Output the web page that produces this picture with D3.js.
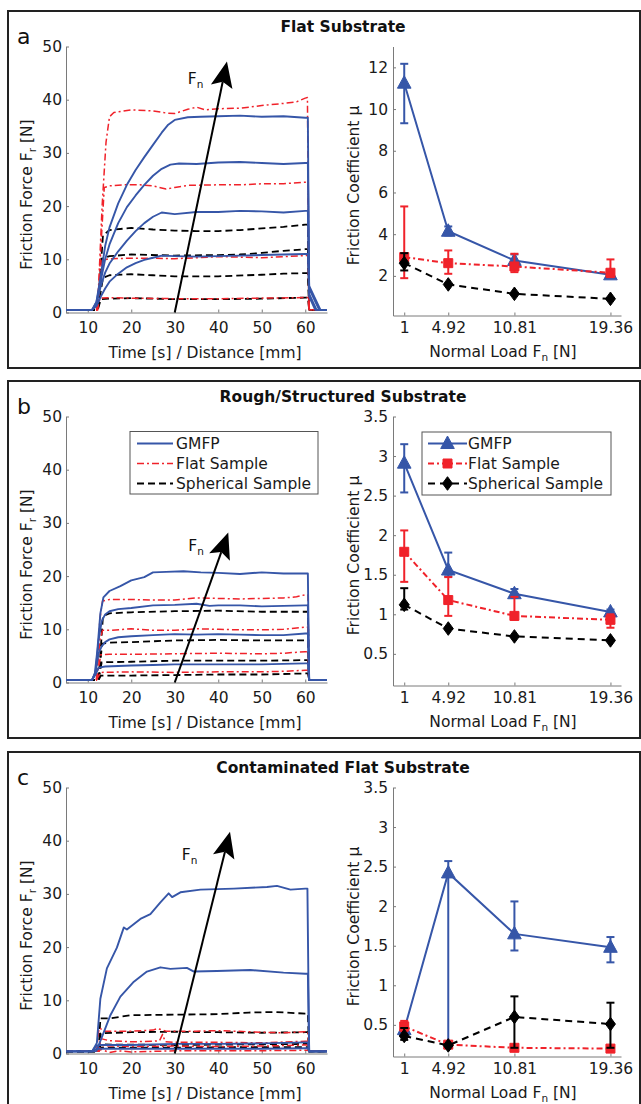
<!DOCTYPE html>
<html>
<head>
<meta charset="utf-8">
<script src="https://cdn.jsdelivr.net/npm/d3@7"></script>
<style>
body { margin: 0; background: #fff; }
svg { display: block; font-family: "DejaVu Sans", sans-serif; }
</style>
</head>
<body>
<script>
// ---------- data ----------
var panelLetters = ["a", "b", "c"];
var panelTitles = ["Flat Substrate", "Rough/Structured Substrate", "Contaminated Flat Substrate"];
var seriesNames = ["GMFP", "Flat Sample", "Spherical Sample"];

var timeTicks = [10, 20, 30, 40, 50, 60];
var forceTicks = [0, 10, 20, 30, 40, 50];
var loads = [1, 4.92, 10.81, 19.36];
var loadLabels = ["1", "4.92", "10.81", "19.36"];
var muTicksA = [2, 4, 6, 8, 10, 12];
var muTicksBC = [0.5, 1, 1.5, 2, 2.5, 3, 3.5];
var muRangeA = [0.1, 13];
var muRangeBC = [0.1, 3.5];

// friction force curves [time, force], one array per sample type and panel
var aBlue = [
    [[5,0.5],[11,0.5],[12,1.2],[13,3],[14,4.5],[15,5.8],[17,7.3],[19,8.5],[21,9.3],[23,9.9],[25,10.3],[27,10.7],[30,10.6],[35,10.5],[40,10.6],[45,10.7],[50,10.8],[55,10.9],[60,11.0],[60.6,11.0],[60.9,3.5],[62.6,0.5],[65,0.5]],
    [[5,0.5],[11,0.5],[12,1.5],[13,5],[14,7.5],[15,9.2],[17,11.5],[19,13.5],[21,15.3],[23,16.8],[25,18],[27,18.8],[30,18.5],[35,18.9],[40,18.9],[45,19.1],[50,19.0],[55,18.8],[60,19.1],[60.6,19.1],[60.9,4.5],[63.2,0.5],[65,0.5]],
    [[5,0.5],[11,0.5],[12,2],[13,6],[14,10],[15,12.8],[17,16.8],[19,19.8],[21,22],[23,24],[25,25.7],[27,27],[29,27.8],[31,28],[35,27.9],[40,28.2],[45,28.3],[50,28.1],[55,27.9],[60,28.1],[60.6,28.1],[60.9,5],[63.5,0.5],[65,0.5]],
    [[5,0.5],[11,0.5],[12,2],[13,7],[14,12.5],[15,16],[17,20.5],[19,24],[21,26.8],[23,29.2],[25,31.5],[27,33.8],[28.5,35.3],[30,36.2],[33,36.7],[36,36.8],[40,36.9],[45,37.0],[50,36.8],[55,36.9],[60,36.6],[60.6,36.6],[60.9,3],[62.3,0.5],[65,0.5]]
];
var aRed = [
    [[5,0.5],[12.2,0.5],[12.8,2.7],[15,2.8],[20,2.7],[30,2.6],[40,2.6],[50,2.7],[60,2.8],[60.6,2.8],[60.9,0.5],[65,0.5]],
    [[5,0.5],[12.2,0.5],[13.3,9.8],[15,10.1],[20,10.2],[25,10.2],[30,10.1],[35,10.3],[40,10.5],[45,10.4],[50,10.3],[55,10.5],[60,10.7],[60.6,10.7],[60.9,0.5],[65,0.5]],
    [[5,0.5],[12.3,0.5],[13,12],[13.8,23.5],[15,23.8],[18,24.0],[22,24.0],[25,23.8],[28,23.2],[30,23.5],[33,23.9],[40,24.0],[45,24.0],[50,24.2],[55,24.2],[60,24.5],[60.6,24.5],[60.9,0.5],[65,0.5]],
    [[5,0.5],[12,0.5],[12.5,5],[13.3,20],[14.2,32],[15,36.8],[16,37.6],[20,38.1],[25,37.9],[28,37.5],[30,37.4],[33,38.2],[35,38.6],[37,38.1],[40,38.3],[45,38.4],[50,38.9],[55,39.3],[58,39.6],[60,40.3],[60.5,40.4],[60.9,0.5],[65,0.5]]
];
var aBlack = [
    [[5,0.5],[12.3,0.5],[13,2.5],[15,2.6],[20,2.7],[30,2.5],[40,2.5],[50,2.6],[60,2.8],[60.6,2.8],[60.9,0.5],[65,0.5]],
    [[5,0.5],[12.3,0.5],[13.5,6.5],[15,7.0],[20,7.2],[25,7.0],[30,6.8],[40,6.8],[50,7.1],[55,7.3],[60,7.4],[60.6,7.4],[60.9,0.5],[65,0.5]],
    [[5,0.5],[12.3,0.5],[13.5,10.2],[15,10.6],[20,10.9],[30,10.7],[40,10.8],[45,10.9],[50,11.2],[55,11.6],[60,11.9],[60.6,11.9],[60.9,0.5],[65,0.5]],
    [[5,0.5],[12.3,0.5],[13.5,14.5],[15,15.5],[20,15.9],[25,15.6],[30,15.4],[35,15.3],[40,15.3],[45,15.5],[50,15.8],[55,16.1],[60,16.5],[60.6,16.5],[60.9,0.5],[65,0.5]]
];

var bBlue = [
    [[5,0.5],[11,0.5],[11.8,1.5],[12.5,2.8],[14,3.0],[20,3.2],[25,3.3],[30,3.4],[40,3.4],[50,3.4],[55,3.5],[60,3.6],[60.6,3.6],[60.9,0.5],[65,0.5]],
    [[5,0.5],[11,0.5],[11.8,2],[12.5,5.5],[13.2,6.8],[14,7.6],[15,8.1],[17,8.5],[20,8.7],[25,8.9],[30,9.1],[35,9.0],[40,9.1],[45,9.0],[50,8.9],[55,8.9],[60,9.2],[60.6,9.2],[60.9,0.5],[65,0.5]],
    [[5,0.5],[11,0.5],[11.8,2],[12.5,8],[13.2,11.5],[14,12.8],[15,13.4],[17,13.8],[20,14.0],[25,14.5],[30,14.6],[35,14.8],[38,14.4],[40,14.5],[45,14.5],[50,14.3],[55,14.4],[60,14.5],[60.6,14.5],[60.9,0.5],[65,0.5]],
    [[5,0.5],[11,0.5],[11.6,1.5],[12.2,6],[12.9,13],[13.6,16],[15,17.2],[17.5,18.1],[20,19.2],[23,19.8],[25,20.7],[28,20.8],[32,20.9],[36,20.7],[40,20.6],[45,20.4],[50,20.7],[55,20.5],[60,20.5],[60.6,20.5],[60.9,0.5],[65,0.5]]
];
var bRed = [
    [[5,0.5],[12,0.5],[13,1.9],[20,2.0],[30,1.9],[40,2.0],[50,2.0],[55,2.1],[60,2.3],[60.6,2.3],[60.9,0.5],[65,0.5]],
    [[5,0.5],[12,0.5],[13,5.2],[15,5.3],[20,5.3],[30,5.4],[40,5.5],[50,5.4],[55,5.5],[60,5.8],[60.6,5.8],[60.9,0.5],[65,0.5]],
    [[5,0.5],[12,0.5],[12.8,8],[13.4,9.8],[15,9.8],[20,10.1],[25,9.8],[30,9.8],[35,10.1],[40,10.0],[45,9.9],[50,9.9],[55,10.0],[60,10.4],[60.6,10.4],[60.9,0.5],[65,0.5]],
    [[5,0.5],[12,0.5],[12.8,12],[13.4,15.3],[15,15.6],[20,15.6],[25,15.5],[30,15.5],[35,15.9],[40,15.8],[45,15.7],[50,15.8],[55,15.9],[58,16.1],[60,16.5],[60.6,16.5],[60.9,0.5],[65,0.5]]
];
var bBlack = [
    [[5,0.5],[12.5,0.5],[13,1.3],[20,1.3],[30,1.4],[40,1.5],[50,1.5],[60,1.7],[60.6,1.7],[60.9,0.5],[65,0.5]],
    [[5,0.5],[12.5,0.5],[13.2,3.8],[20,3.9],[30,4.1],[40,4.1],[50,4.1],[60,4.2],[60.6,4.2],[60.9,0.5],[65,0.5]],
    [[5,0.5],[12.5,0.5],[13.3,7.3],[15,7.5],[20,7.6],[30,7.9],[40,8.0],[50,7.9],[60,7.9],[60.6,7.9],[60.9,0.5],[65,0.5]],
    [[5,0.5],[12.5,0.5],[13.5,12.5],[15,13.0],[20,13.2],[30,13.4],[40,13.5],[50,13.3],[60,13.3],[60.6,13.3],[60.9,0.5],[65,0.5]]
];

var cBlue = [
    [[5,0.4],[11,0.4],[12,0.9],[20,0.9],[30,0.9],[40,0.9],[50,0.9],[60,1.0],[60.6,1.0],[60.9,0.4],[65,0.4]],
    [[5,0.4],[11,0.4],[12,1.5],[13,1.6],[20,1.6],[30,1.8],[40,1.8],[50,1.9],[60,2.1],[60.6,2.1],[60.9,0.4],[65,0.4]],
    [[5,0.4],[11.5,0.4],[12,0.5],[13.7,4],[15.2,7.2],[17.5,10.7],[20.6,13.5],[23.6,15.4],[26.7,16.2],[29,15.9],[32.8,16.1],[34.4,15.4],[39.7,15.5],[47.4,15.7],[55,15.2],[60,15.0],[60.6,15.0],[60.9,0.4],[65,0.4]],
    [[5,0.4],[11,0.4],[12.1,2],[12.9,10.3],[14.4,16],[16.7,19.9],[18.3,23.7],[19,23.3],[22.1,25.3],[24.4,26.2],[26.7,28.4],[28.6,30.1],[29.4,29.4],[31.3,30.3],[35.9,30.8],[43.6,31.0],[51.2,31.3],[53.5,31.5],[56.6,30.8],[60,31.0],[60.5,31.0],[60.9,0.4],[65,0.4]]
];
var cRed = [
    [[5,0.4],[12.5,0.4],[13,0.8],[15,0.2],[17,0.5],[20,0.3],[30,0.5],[45,0.5],[60,0.6],[60.6,0.6],[60.9,0.4],[65,0.4]],
    [[5,0.4],[12.5,0.4],[13,1.5],[20,1.3],[30,1.4],[40,1.3],[50,1.4],[60,1.6],[60.6,1.6],[60.9,0.4],[65,0.4]],
    [[5,0.4],[12.5,0.4],[13,2.8],[15,2.4],[20,2.2],[25,2.3],[26.5,2.4],[27.2,3.6],[27.8,2.2],[30,2.1],[40,2.1],[50,2.0],[60,2.3],[60.6,2.3],[60.9,0.4],[65,0.4]],
    [[5,0.4],[12,0.4],[12.6,4.8],[14,4.2],[20,4.2],[25,4.4],[26,4.7],[28,4.2],[35,4.2],[40,4.3],[50,4.0],[55,3.9],[60,4.1],[60.6,4.1],[60.9,0.4],[65,0.4]]
];
var cBlack = [
    [[5,0.4],[12.5,0.4],[13,1.1],[30,1.1],[45,1.2],[60,1.2],[60.6,1.2],[60.9,0.4],[65,0.4]],
    [[5,0.4],[12.5,0.4],[13,1.7],[30,1.6],[45,1.7],[60,1.8],[60.6,1.8],[60.9,0.4],[65,0.4]],
    [[5,0.4],[12.5,0.4],[13,3.8],[20,4.0],[30,4.1],[40,4.0],[50,3.9],[60,4.0],[60.6,4.0],[60.9,0.4],[65,0.4]],
    [[5,0.4],[12.5,0.4],[12.9,6.6],[15,6.6],[20,7.2],[30,7.3],[40,7.4],[47,7.7],[53,7.8],[60,7.5],[60.6,7.5],[60.9,0.4],[65,0.4]]
];

// Fn arrow (start, tip) and label position, in data units
var arrowA = [[30, 0], [42.0, 47.2]], fnA = [33.0, 42.9];
var arrowB = [[30, 0], [42.3, 28.2]], fnB = [33.1, 24.8];
var arrowC = [[30, 0], [42.7, 41.7]], fnC = [31.6, 36.4];

// friction coefficient per load: [mean, lower, upper]
var aGmfp = [[11.24, 9.32, 12.17], [4.14, 3.94, 4.37], [2.74, 2.42, 3.03], [2.05, 1.98, 2.12]];
var aFlat = [[2.9, 1.89, 5.33], [2.61, 2.1, 3.22], [2.45, 2.18, 3.06], [2.15, 1.94, 2.79]];
var aSph = [[2.61, 2.26, 3.09], [1.59, 1.59, 1.59], [1.14, 1.14, 1.14], [0.9, 0.9, 0.9]];
var bGmfp = [[2.91, 2.54, 3.15], [1.56, 1.48, 1.78], [1.26, 1.21, 1.32], [1.03, 1.0, 1.06]];
var bFlat = [[1.79, 1.41, 2.06], [1.18, 0.98, 1.47], [0.98, 0.93, 1.22], [0.93, 0.83, 1.0]];
var bSph = [[1.12, 1.06, 1.33], [0.82, 0.82, 0.82], [0.72, 0.72, 0.72], [0.67, 0.67, 0.67]];
var cGmfp = [[0.44, 0.41, 0.47], [2.42, 0.27, 2.57], [1.65, 1.44, 2.06], [1.48, 1.29, 1.61]];
var cFlat = [[0.48, 0.42, 0.55], [0.25, 0.25, 0.25], [0.21, 0.21, 0.21], [0.2, 0.2, 0.2]];
var cSph = [[0.36, 0.31, 0.46], [0.24, 0.24, 0.24], [0.6, 0.21, 0.86], [0.51, 0.21, 0.78]];

// ---------- layout / style ----------
var blue = "#3656a8", red = "#f0222a", black = "#000";
var fs = 15.5;
var panelTop = [11, 381, 752];
var leftRange = [66, 327], rightRange = [393, 621];

var svg = d3.select("body").append("svg")
    .attr("width", 641)
    .attr("height", 1104);

var panels = [
    {curves: [aBlack, aRed, aBlue], arrow: arrowA, fn: fnA, mu: [aGmfp, aFlat, aSph], muRange: muRangeA, muTicks: muTicksA},
    {curves: [bBlack, bRed, bBlue], arrow: arrowB, fn: fnB, mu: [bGmfp, bFlat, bSph], muRange: muRangeBC, muTicks: muTicksBC, legend: true},
    {curves: [cBlack, cRed, cBlue], arrow: arrowC, fn: fnC, mu: [cGmfp, cFlat, cSph], muRange: muRangeBC, muTicks: muTicksBC}
];
var curveStyle = [
    {color: black, width: 1.8, dash: "7,4"},
    {color: red, width: 1.5, dash: "7,3,2,3"},
    {color: blue, width: 1.9, dash: null}
];
var seriesStyle = [
    {color: blue, dash: null, marker: "tri"},
    {color: red, dash: "6,3,2,3", marker: "sq"},
    {color: black, dash: "7,5", marker: "dia"}
];

function markerPath(type) {
    if (type == "tri") return "M0,-7.5L6.8,5L-6.8,5Z";
    if (type == "sq") return "M-4.5,-4.5H4.5V4.5H-4.5Z";
    return "M0,-6.8L5,0L0,6.8L-5,0Z";
}

// text with a subscript, e.g. F_n
function subText(g, x, y, pre, sub, post) {
    var t = g.append("text").attr("x", x).attr("y", y)
        .attr("font-size", fs + "px").style("fill", "#111");
    t.append("tspan").text(pre);
    t.append("tspan").attr("font-size", "10.5px").attr("dy", 4).text(sub);
    if (post) t.append("tspan").attr("dy", -4).text(post);
    return t;
}

function styleAxis(g) {
    g.select(".domain").attr("stroke", "#7a7a7a");
    g.selectAll(".tick line").attr("stroke", "#7a7a7a");
    g.selectAll(".tick text").attr("fill", "#1a1a1a").attr("font-size", fs + "px")
        .attr("font-family", "DejaVu Sans, sans-serif");
}

function drawArrow(g, x0, y0, x1, y1) {
    var dx = x1 - x0, dy = y1 - y0, len = Math.hypot(dx, dy);
    var ux = dx / len, uy = dy / len;
    var hl = 26, hw = 11;
    var bx = x1 - ux * hl, by = y1 - uy * hl;
    var nx = x1 - ux * hl * 0.8, ny = y1 - uy * hl * 0.8;
    g.append("line")
        .attr("x1", x0).attr("y1", y0).attr("x2", nx).attr("y2", ny)
        .attr("stroke", "#000").attr("stroke-width", 2);
    g.append("path")
        .attr("d", "M" + x1 + "," + y1 +
            "L" + (bx - uy * hw) + "," + (by + ux * hw) +
            "L" + nx + "," + ny +
            "L" + (bx + uy * hw) + "," + (by - ux * hw) + "Z")
        .attr("fill", "#000");
}

panels.forEach(function(p, pi) {
    var top = panelTop[pi];
    var g = svg.append("g");

    // frame
    g.append("rect")
        .attr("x", 8).attr("y", top)
        .attr("width", 632).attr("height", 357)
        .attr("fill", "none").attr("stroke", "#222").attr("stroke-width", 2);

    g.append("text")
        .attr("x", 17).attr("y", top + 32.5)
        .attr("font-size", "22px").attr("fill", "#111")
        .text(panelLetters[pi]);

    g.append("text")
        .attr("x", 343).attr("y", top + 21)
        .attr("text-anchor", "middle")
        .attr("font-size", fs + "px").attr("font-weight", "bold").attr("fill", "#111")
        .text(panelTitles[pi]);

    var plotTop = top + 35.5;
    var plotBottom = plotTop + 266;
    var muBottom = plotTop + 269;

    // ---- left: friction force vs time ----
    var x = d3.scaleLinear().domain([5, 65]).range(leftRange);
    var y = d3.scaleLinear().domain([0, 50]).range([plotBottom, plotTop]);

    var xAxis = g.append("g")
        .attr("transform", "translate(0," + plotBottom + ")")
        .call(d3.axisBottom(x).tickValues(timeTicks).tickSizeInner(-3).tickSizeOuter(0).tickPadding(9.5));
    styleAxis(xAxis);
    var yAxis = g.append("g")
        .attr("transform", "translate(" + leftRange[0] + ",0)")
        .call(d3.axisLeft(y).tickValues(forceTicks).tickSizeInner(-3).tickSizeOuter(0).tickPadding(4));
    styleAxis(yAxis);

    var line = d3.line().x(d => x(d[0])).y(d => y(d[1]));
    p.curves.forEach(function(group, k) {
        var st = curveStyle[k];
        g.selectAll(null)
            .data(group)
            .enter()
            .append("path")
            .attr("d", line)
            .attr("fill", "none")
            .attr("stroke", st.color)
            .attr("stroke-width", st.width)
            .attr("stroke-dasharray", st.dash)
            .attr("stroke-linejoin", "round");
    });

    drawArrow(g, x(p.arrow[0][0]), y(p.arrow[0][1]), x(p.arrow[1][0]), y(p.arrow[1][1]));
    subText(g, x(p.fn[0]), y(p.fn[1]), "F", "n");

    var yl = g.append("text")
        .attr("transform", "translate(31.5," + (plotTop + 148) + ") rotate(-90)")
        .attr("text-anchor", "middle")
        .attr("font-size", fs + "px").attr("fill", "#1a1a1a");
    yl.append("tspan").text("Friction Force F");
    yl.append("tspan").attr("font-size", "10.5px").attr("dy", 4).text("r");
    yl.append("tspan").attr("dy", -4).text(" [N]");

    g.append("text")
        .attr("x", 205).attr("y", plotBottom + 45)
        .attr("text-anchor", "middle")
        .attr("font-size", fs + "px").attr("fill", "#1a1a1a")
        .text("Time [s] / Distance [mm]");

    // ---- right: friction coefficient vs normal load ----
    var xr = d3.scaleLinear().domain([0, 20.3]).range(rightRange);
    var yr = d3.scaleLinear().domain(p.muRange).range([muBottom, plotTop]);

    var xrAxis = g.append("g")
        .attr("transform", "translate(0," + muBottom + ")")
        .call(d3.axisBottom(xr).tickValues(loads).tickFormat((d, i) => loadLabels[i])
            .tickSizeInner(-3).tickSizeOuter(0).tickPadding(6.5));
    styleAxis(xrAxis);
    var yrAxis = g.append("g")
        .attr("transform", "translate(" + rightRange[0] + ",0)")
        .call(d3.axisLeft(yr).tickValues(p.muTicks).tickFormat(d => String(d))
            .tickSizeInner(-3).tickSizeOuter(0).tickPadding(5));
    styleAxis(yrAxis);

    var muLine = d3.line().x((d, i) => xr(loads[i])).y(d => yr(d[0]));
    p.mu.forEach(function(series, s) {
        var st = seriesStyle[s];
        var sg = g.append("g");
        sg.append("path")
            .datum(series)
            .attr("d", muLine)
            .attr("fill", "none")
            .attr("stroke", st.color)
            .attr("stroke-width", 2)
            .attr("stroke-dasharray", st.dash);
        var eb = sg.selectAll(null).data(series).enter().append("g")
            .attr("transform", (d, i) => "translate(" + xr(loads[i]) + ",0)");
        eb.append("line")
            .attr("y1", d => yr(d[1])).attr("y2", d => yr(d[2]))
            .attr("stroke", st.color).attr("stroke-width", 2);
        eb.append("line")
            .attr("x1", -4).attr("x2", 4)
            .attr("y1", d => yr(d[1])).attr("y2", d => yr(d[1]))
            .attr("stroke", st.color).attr("stroke-width", 2);
        eb.append("line")
            .attr("x1", -4).attr("x2", 4)
            .attr("y1", d => yr(d[2])).attr("y2", d => yr(d[2]))
            .attr("stroke", st.color).attr("stroke-width", 2);
        eb.append("path")
            .attr("transform", d => "translate(0," + yr(d[0]) + ")")
            .attr("d", markerPath(st.marker))
            .attr("fill", st.color)
            .attr("stroke", st.color)
            .attr("stroke-width", 1);
    });

    g.append("text")
        .attr("transform", "translate(359," + (plotTop + 139) + ") rotate(-90)")
        .attr("text-anchor", "middle")
        .attr("font-size", fs + "px").attr("fill", "#1a1a1a")
        .text("Friction Coefficient \u03bc");

    var xrl = g.append("text")
        .attr("x", 503).attr("y", plotBottom + 44)
        .attr("text-anchor", "middle")
        .attr("font-size", fs + "px").attr("fill", "#1a1a1a");
    xrl.append("tspan").text("Normal Load F");
    xrl.append("tspan").attr("font-size", "10.5px").attr("dy", 4).text("n");
    xrl.append("tspan").attr("dy", -4).text(" [N]");

    // ---- legends (panel b) ----
    if (p.legend) {
        var lg = g.append("g");
        lg.append("rect")
            .attr("x", 130).attr("y", top + 50.5)
            .attr("width", 188).attr("height", 62.5)
            .attr("fill", "#fff").attr("stroke", "#555").attr("stroke-width", 1);
        [2, 1, 0].forEach(function(k, r) {
            var st = curveStyle[k];
            var ly = top + 62.5 + r * 20;
            lg.append("line")
                .attr("x1", 137).attr("x2", 173).attr("y1", ly).attr("y2", ly)
                .attr("stroke", st.color).attr("stroke-width", st.width)
                .attr("stroke-dasharray", st.dash);
            lg.append("text")
                .attr("x", 176).attr("y", ly).attr("dy", "0.35em")
                .attr("font-size", fs + "px").attr("fill", "#1a1a1a")
                .text(seriesNames[r]);
        });

        var rg = g.append("g");
        rg.append("rect")
            .attr("x", 422).attr("y", top + 51)
            .attr("width", 189).attr("height", 63)
            .attr("fill", "#fff").attr("stroke", "#555").attr("stroke-width", 1);
        seriesStyle.forEach(function(st, r) {
            var ly = top + 62.5 + r * 20;
            rg.append("line")
                .attr("x1", 428).attr("x2", 467).attr("y1", ly).attr("y2", ly)
                .attr("stroke", st.color).attr("stroke-width", 2)
                .attr("stroke-dasharray", st.dash);
            rg.append("path")
                .attr("transform", "translate(447.5," + ly + ")")
                .attr("d", markerPath(st.marker))
                .attr("fill", st.color).attr("stroke", st.color);
            rg.append("text")
                .attr("x", 468).attr("y", ly).attr("dy", "0.35em")
                .attr("font-size", fs + "px").attr("fill", "#1a1a1a")
                .text(seriesNames[r]);
        });
    }
});
</script>
</body>
</html>
